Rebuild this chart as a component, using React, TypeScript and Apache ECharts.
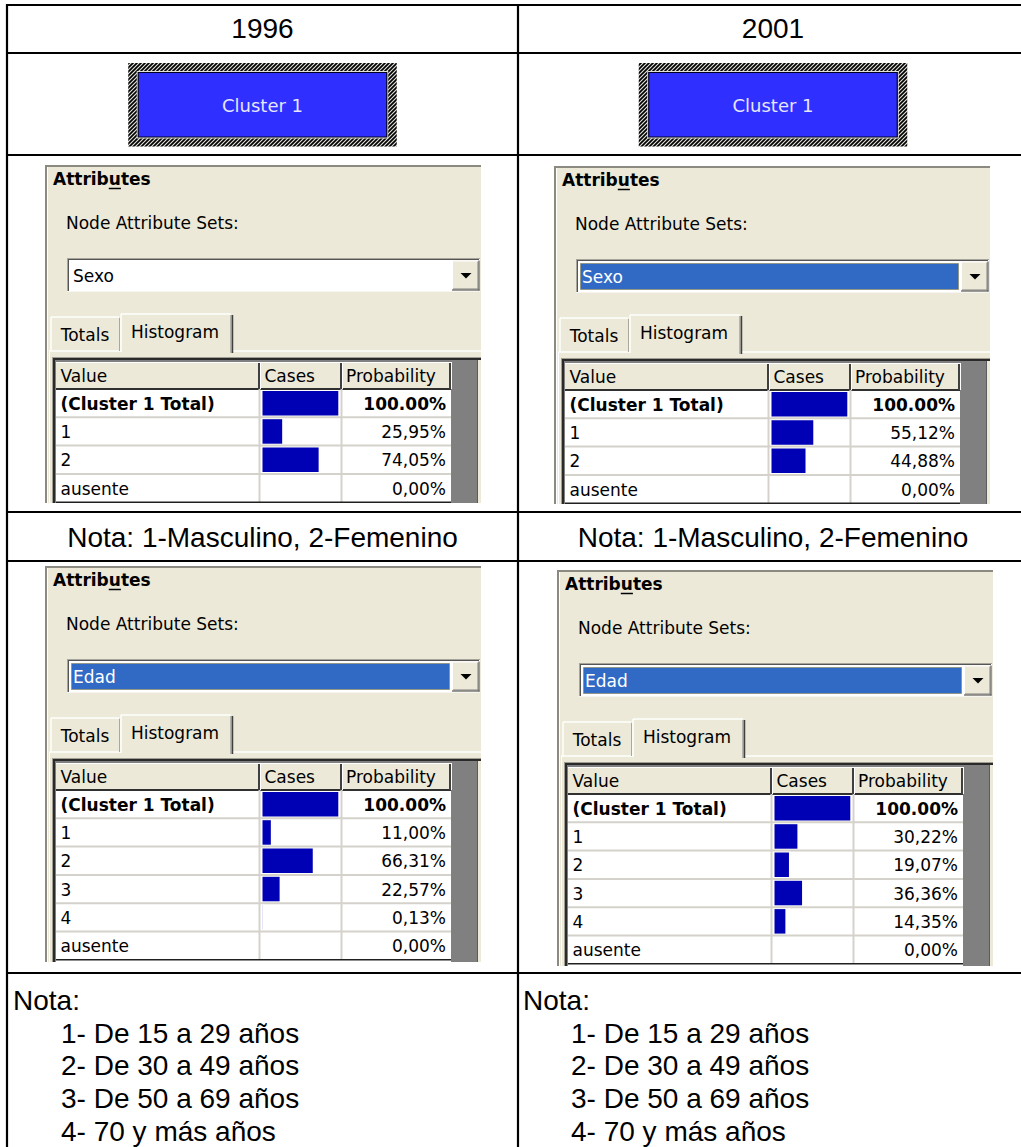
import React, { useEffect, useRef } from "react";
import * as echarts from "echarts";

// ---------- data ----------
const years = ["1996", "2001"];
const clusterName = "Cluster 1";
const headers = ["Value", "Cases", "Probability"];
const sexoRows = ["(Cluster 1 Total)", "1", "2", "ausente"];
const sexo1996 = [100, 25.95, 74.05, 0];
const sexo2001 = [100, 55.12, 44.88, 0];
const edadRows = ["(Cluster 1 Total)", "1", "2", "3", "4", "ausente"];
const edad1996 = [100, 11.0, 66.31, 22.57, 0.13, 0];
const edad2001 = [100, 30.22, 19.07, 36.36, 14.35, 0];
const sexoNote = "Nota: 1-Masculino, 2-Femenino";
const edadNoteTitle = "Nota:";
const edadNotes = ["1- De 15 a 29 años", "2- De 30 a 49 años", "3- De 50 a 69 años", "4- 70 y más años"];

// ---------- styling / layout ----------
const FONT_UI = '"DejaVu Sans", Verdana, sans-serif';
const FONT_DOC = '"Liberation Sans", Arial, sans-serif';
const UI_SIZE = 17;
const DOC_SIZE = 28;
const BEIGE = "#ECE9D8";
const BAR_COLOR = "#0000B4";
const ROW_H = 28.3;
const HEAD_TOP = 197;
const HEAD_BOT = 224;
const COL_VALUE = 11;
const COL_CASES = 215;
const COL_PROB = 297;
const COL_END = 406;
const GRAY_END = 432;
const BAR_LEFT = 217.5;
const BAR_W = 75.8;

const panels = [
  { ox: 45, oy: 165, right: 481, bottom: 503, attr: "Sexo", selected: false, rows: sexoRows, vals: sexo1996 },
  { ox: 554, oy: 166, right: 990, bottom: 504, attr: "Sexo", selected: true, rows: sexoRows, vals: sexo2001 },
  { ox: 45, oy: 566, right: 481, bottom: 962, attr: "Edad", selected: true, rows: edadRows, vals: edad1996 },
  { ox: 557, oy: 570, right: 993, bottom: 966, attr: "Edad", selected: true, rows: edadRows, vals: edad2001 },
];

const colCenters = [262.5, 773];

function fmtPct(v: number, i: number) {
  const s = v.toFixed(2);
  return (i === 0 ? s : s.replace(".", ",")) + "%";
}

const Z = 1;
function line(x1: number, y1: number, x2: number, y2: number, stroke: string, lw = 1, extra: any = {}) {
  return { type: "line", z: Z, silent: true, shape: { x1, y1, x2, y2 }, style: { stroke, lineWidth: lw, ...extra } };
}
function rect(x: number, y: number, w: number, h: number, fill: any, stroke?: string, lw = 1, extra: any = {}) {
  return {
    type: "rect",
    z: Z,
    silent: true,
    shape: { x, y, width: w, height: h },
    style: { fill, stroke: stroke || "none", lineWidth: stroke ? lw : 0, ...extra },
  };
}
function text(x: number, y: number, t: string, font: string, fill = "#000", align = "left") {
  return {
    type: "text",
    z: Z + 1,
    silent: true,
    x,
    y,
    style: { text: t, font, fill, align, verticalAlign: "middle", textAlign: align, textVerticalAlign: "middle" },
  };
}

const hatchSvg =
  "<svg xmlns='http://www.w3.org/2000/svg' width='4' height='4'>" +
  "<rect width='4' height='4' fill='#e2e2da'/>" +
  "<path d='M-1,1 L1,-1 M0,4 L4,0 M3,5 L5,3' stroke='#000' stroke-width='1.7'/></svg>";
const hatchUrl = "data:image/svg+xml;charset=utf-8," + encodeURIComponent(hatchSvg);

function buildGraphics(measure: (f: string, s: string) => number) {
  const g: any[] = [];
  const uiFont = `${UI_SIZE}px ${FONT_UI}`;
  const uiBold = `bold ${UI_SIZE}px ${FONT_UI}`;
  const docFont = `${DOC_SIZE}px ${FONT_DOC}`;

  // cluster boxes
  colCenters.forEach((cx) => {
    const bw = 268.5;
    const x0 = cx - bw / 2;
    g.push(rect(x0, 63, bw, 83.5, { image: hatchUrl, repeat: "repeat", imageWidth: 4, imageHeight: 4 }));
    g.push(rect(x0 + 8.5, 71, bw - 17, 67.5, "#E4E2D6"));
    g.push(rect(x0 + 10, 72.5, bw - 20, 64.5, "#2F2FFF", "#000020", 1.2));
    g.push(text(cx, 105.5, clusterName, `18px ${FONT_UI}`, "#E6E6FF", "center"));
  });

  // header years
  years.forEach((y, i) => g.push(text(colCenters[i], 28, y, docFont, "#000", "center")));
  // sexo notes
  colCenters.forEach((cx) => g.push(text(cx, 537, sexoNote, docFont, "#000", "center")));
  // edad notes
  [13, 523].forEach((x0) => {
    g.push(text(x0, 1000, edadNoteTitle, docFont));
    edadNotes.forEach((n, k) => g.push(text(x0 + 48, 1033 + k * 32.7, n, docFont)));
  });

  // panels
  panels.forEach((p) => {
    const { ox, oy, right, bottom } = p;
    const W = right - ox;
    g.push(rect(ox, oy, W, bottom - oy, BEIGE));
    g.push(line(ox + 1, oy, ox + 1, bottom, "#8C8A80", 2));
    g.push(line(ox, oy + 1, right, oy + 1, "#8C8A80", 2));
    g.push(line(ox + 2.5, oy + 2, ox + 2.5, bottom, "#FFFFFF", 1));

    // Attributes
    g.push(text(ox + 8, oy + 14, "Attributes", uiBold));
    const pre = measure(uiBold, "Attrib");
    const uw = measure(uiBold, "u");
    g.push(line(ox + 8 + pre, oy + 23.5, ox + 8 + pre + uw, oy + 23.5, "#000", 1.5));

    g.push(text(ox + 21, oy + 58, "Node Attribute Sets:", uiFont));

    // dropdown
    g.push(rect(ox + 22, oy + 93, 413, 34, "#FFFFFF"));
    g.push(line(ox + 22, oy + 93.5, ox + 435, oy + 93.5, "#A7A59B", 1));
    g.push(line(ox + 22.5, oy + 93, ox + 22.5, oy + 127, "#A7A59B", 1));
    g.push(line(ox + 23, oy + 94.5, ox + 434, oy + 94.5, "#555555", 1));
    g.push(line(ox + 23.5, oy + 94, ox + 23.5, oy + 126, "#555555", 1));
    g.push(line(ox + 22, oy + 126.5, ox + 435, oy + 126.5, "#F6F5F0", 1));
    if (p.selected) {
      g.push(rect(ox + 26.5, oy + 97.5, 378, 26, "#316AC5", "#8A7A30", 1, { lineDash: [1, 1] }));
    }
    g.push(text(ox + 28, oy + 111, p.attr, uiFont, p.selected ? "#FFFFFF" : "#000"));
    // dropdown button
    g.push(rect(ox + 407, oy + 95.5, 27.5, 30, BEIGE));
    g.push(line(ox + 407, oy + 96, ox + 434.5, oy + 96, "#FFFFFF", 1));
    g.push(line(ox + 407.5, oy + 95.5, ox + 407.5, oy + 125.5, "#FFFFFF", 1));
    g.push(line(ox + 434, oy + 95.5, ox + 434, oy + 125.5, "#404040", 1));
    g.push(line(ox + 407, oy + 125, ox + 434.5, oy + 125, "#404040", 1));
    g.push(line(ox + 433, oy + 96.5, ox + 433, oy + 124.5, "#808080", 1));
    g.push(line(ox + 408, oy + 124, ox + 433.5, oy + 124, "#808080", 1));
    g.push({
      type: "polygon",
      z: Z + 1,
      silent: true,
      shape: { points: [[ox + 415.5, oy + 108], [ox + 426.5, oy + 108], [ox + 421, oy + 113.5]] },
      style: { fill: "#000" },
    });

    // tabs
    g.push(line(ox + 4, oy + 186, ox + 76, oy + 186, "#FFFFFF", 1.5));
    g.push(line(ox + 187, oy + 186, right, oy + 186, "#FFFFFF", 1.5));
    g.push(line(ox + 4.5, oy + 186, ox + 4.5, bottom, "#FFFFFF", 1));
    // Totals tab
    g.push(line(ox + 6, oy + 152, ox + 74, oy + 152, "#FFFFFF", 1.5));
    g.push(line(ox + 6, oy + 152, ox + 6, oy + 186, "#FFFFFF", 1.5));
    g.push(line(ox + 74.5, oy + 153, ox + 74.5, oy + 186, "#ACA899", 1));
    g.push(text(ox + 40, oy + 170, "Totals", uiFont, "#000", "center"));
    // Histogram tab
    g.push(line(ox + 76, oy + 149, ox + 186, oy + 149, "#FFFFFF", 1.5));
    g.push(line(ox + 76, oy + 149, ox + 76, oy + 187, "#FFFFFF", 1.5));
    g.push(line(ox + 186, oy + 150, ox + 186, oy + 188, "#808080", 1));
    g.push(line(ox + 187.5, oy + 150, ox + 187.5, oy + 188, "#404040", 1.5));
    g.push(text(ox + 130, oy + 167, "Histogram", uiFont, "#000", "center"));

    // list frame
    const listBottom = oy + HEAD_BOT + p.rows.length * ROW_H;
    g.push(rect(ox + 7, oy + 192, W - 7, bottom - oy - 192, "#808080"));
    g.push(line(ox + 7, oy + 192.5, right, oy + 192.5, "#A09D92", 1));
    g.push(line(ox + 7.5, oy + 192, ox + 7.5, bottom, "#A09D92", 1));
    g.push(line(ox + 8, oy + 194, right, oy + 194, "#2A2A2A", 2));
    g.push(line(ox + 9, oy + 193, ox + 9, bottom, "#2A2A2A", 2));
    g.push(line(ox + GRAY_END + 0.5, oy + 195, ox + GRAY_END + 0.5, bottom, "#5C5C5C", 1));
    g.push(rect(ox + GRAY_END + 1, oy + 195, W - GRAY_END - 1, bottom - oy - 195, BEIGE));
    // header
    g.push(rect(ox + COL_VALUE, oy + HEAD_TOP, COL_END - COL_VALUE, HEAD_BOT - HEAD_TOP, BEIGE));
    // data area
    g.push(rect(ox + COL_VALUE, oy + HEAD_BOT, COL_END - COL_VALUE, bottom - oy - HEAD_BOT, "#FFFFFF"));
    g.push(line(ox + COL_VALUE, oy + HEAD_BOT, ox + COL_END, oy + HEAD_BOT, "#303030", 2));
    // header separators
    [COL_CASES, COL_PROB, COL_END].forEach((c) => {
      g.push(line(ox + c - 1, oy + HEAD_TOP, ox + c - 1, oy + HEAD_BOT, "#404040", 2));
      g.push(line(ox + c + 0.5, oy + HEAD_TOP, ox + c + 0.5, oy + HEAD_BOT, "#FFFFFF", 1));
    });
    g.push(line(ox + COL_VALUE, oy + HEAD_TOP + 0.5, ox + COL_END, oy + HEAD_TOP + 0.5, "#FFFFFF", 1));
    const hx = [COL_VALUE + 4.5, COL_CASES + 4.5, COL_PROB + 4];
    headers.forEach((h, k) => g.push(text(ox + hx[k], oy + 211, h, uiFont)));
    // rows
    p.rows.forEach((r, i) => {
      const top = oy + HEAD_BOT + i * ROW_H;
      const cy = top + ROW_H / 2 + 0.5;
      if (i > 0) g.push(line(ox + COL_VALUE, top, ox + COL_END, top, "#D4D2CA", 2));
      g.push(text(ox + COL_VALUE + 4.5, cy, r, i === 0 ? uiBold : uiFont));
      g.push(text(ox + COL_END - 5, cy, fmtPct(p.vals[i], i), i === 0 ? uiBold : uiFont, "#000", "right"));
    });
    g.push(line(ox + COL_CASES - 0.5, oy + HEAD_BOT, ox + COL_CASES - 0.5, listBottom, "#D4D2CA", 2));
    g.push(line(ox + COL_PROB - 0.5, oy + HEAD_BOT, ox + COL_PROB - 0.5, listBottom, "#D4D2CA", 2));
    g.push(line(ox + COL_VALUE, listBottom, ox + COL_END, listBottom, "#202020", 1.5));
  });

  // outer table lines
  const hy = [5, 53, 155, 512, 561, 973];
  hy.forEach((y) => g.push(line(6, y, 1021, y, "#000", 2.2)));
  [7, 518].forEach((x) => g.push(line(x, 4, x, 1147, "#000", 2.2)));
  return g;
}

export default function App() {
  const ref = useRef<HTMLDivElement>(null);
  useEffect(() => {
    if (!ref.current) return;
    const chart = echarts.init(ref.current, undefined, { renderer: "svg" });
    const cv = document.createElement("canvas").getContext("2d")!;
    const measure = (f: string, s: string) => {
      cv.font = f;
      return cv.measureText(s).width;
    };
    const grids = panels.map((p) => ({
      left: p.ox + BAR_LEFT,
      top: p.oy + HEAD_BOT,
      width: BAR_W,
      height: p.rows.length * ROW_H,
      containLabel: false,
    }));
    chart.setOption({
      animation: false,
      backgroundColor: "#FFFFFF",
      grid: grids,
      xAxis: panels.map((_, i) => ({ type: "value", gridIndex: i, min: 0, max: 100, show: false })),
      yAxis: panels.map((p, i) => ({ type: "category", gridIndex: i, data: p.rows, inverse: true, show: false })),
      series: panels.map((p, i) => ({
        type: "bar",
        xAxisIndex: i,
        yAxisIndex: i,
        data: p.vals,
        barWidth: 24.5,
        z: 5,
        silent: true,
        itemStyle: { color: BAR_COLOR },
      })),
      graphic: { elements: buildGraphics(measure) },
    });
    return () => chart.dispose();
  }, []);
  return <div ref={ref} style={{ position: "absolute", left: 0, top: 0, width: 1021, height: 1147 }} />;
}
